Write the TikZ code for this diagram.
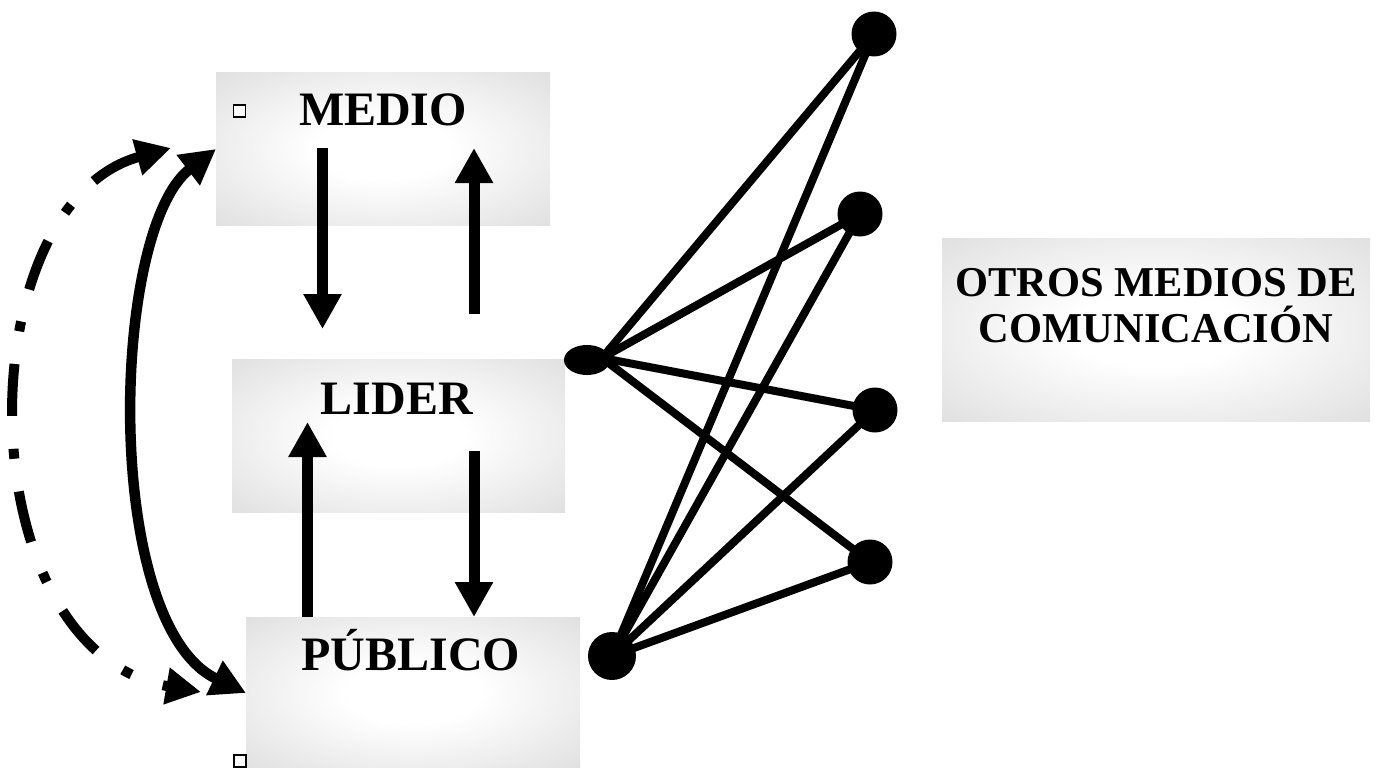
\documentclass[tikz,border=0pt]{standalone}
\usepackage{fontspec}
\setmainfont{Liberation Serif}
\usetikzlibrary{arrows.meta,shapes.geometric}
\definecolor{boxgray}{RGB}{221,221,221}
\pgfdeclareradialshading{boxshade}{\pgfpoint{0bp}{0bp}}{color(0bp)=(white); color(10bp)=(white); color(38bp)=(boxgray); color(100bp)=(boxgray)}
\begin{document}
\begin{tikzpicture}[x=1pt,y=-1pt,
  box/.style={rectangle, draw=none, shading=boxshade, inner sep=0pt, outer sep=0pt},
  lbl/.style={font=\fontsize{48}{52}\selectfont\bfseries, inner sep=0pt, anchor=base},
  olbl/.style={font=\fontsize{42.5}{46}\selectfont\bfseries, inner sep=0pt, anchor=base},
  arr/.style={line width=11pt, -{Triangle[length=35pt,width=36pt]}},
  arc/.style={line width=10.5pt, {Triangle[length=35pt,width=36pt]}-{Triangle[length=35pt,width=36pt]}},
  dasharc/.style={line width=10pt, dash pattern=on 52pt off 33pt on 10pt off 33pt, {Triangle[length=35pt,width=35pt]}-{Triangle[length=35pt,width=35pt]}},
  link/.style={line width=8pt},
  dot/.style={circle, fill=black, inner sep=0pt, minimum size=45pt},
  bullet/.style={rectangle, draw=black, line width=1.8pt, fill=white, inner sep=0pt, minimum size=12pt}
]
\useasboundingbox (0,0) rectangle (1382,768);

% boxes
\node[box, minimum width=334pt, minimum height=152pt] (medio) at (383,149) {};
\node[box, minimum width=333pt, minimum height=153pt] (lider) at (398.5,435.5) {};
\node[box, minimum width=334pt, minimum height=152pt] (publico) at (413,693) {};
\node[box, minimum width=428pt, minimum height=183pt] (otros) at (1156,329.5) {};

% labels
\node[lbl] (medioT) at (383,125) {MEDIO};
\node[lbl] (liderT) at (397,414) {LIDER};
\node[lbl] (publicoT) at (411,670) {PÚBLICO};
\node[olbl] (otros1) at (1156,296) {OTROS MEDIOS DE};
\node[olbl] (otros2) at (1156,342) {COMUNICACIÓN};

% bullets
\node[bullet] (b1) at (239.5,111) {};
\node[bullet] (b2) at (240,761) {};

% vertical arrows
\coordinate (a1s) at (322.5,148); \coordinate (a1e) at (322.5,329);
\coordinate (a2s) at (474,314);   \coordinate (a2e) at (474,148);
\coordinate (a3s) at (307.5,617); \coordinate (a3e) at (307.5,422);
\coordinate (a4s) at (474,451);   \coordinate (a4e) at (474,617);
\draw[arr] (a1s) -- (a1e);
\draw[arr] (a2s) -- (a2e);
\draw[arr] (a3s) -- (a3e);
\draw[arr] (a4s) -- (a4e);

% left arcs
\draw[arc] (medio.west) .. controls (110,230) and (102,624) .. (publico.west);
\coordinate (d1) at (171,148);
\coordinate (d2) at (201,692);
\draw[dasharc] (d1) .. controls (-35,205) and (-35,651) .. (d2);

% right network
\node[dot] (p1) at (874,34) {};
\node[dot] (p2) at (860,214) {};
\node[dot] (p3) at (875,410) {};
\node[dot] (p4) at (870,562) {};
\node[dot, minimum size=48pt] (q) at (612,656) {};
\node[ellipse, fill=black, minimum width=46pt, minimum height=30pt, inner sep=0pt] (ell) at (587,360) {};
\coordinate (hub) at (602,358);
\draw[link] (hub) -- (p1.center);
\draw[link] (hub) -- (p2.center);
\draw[link] (hub) -- (p3.center);
\draw[link] (hub) -- (p4.center);
\draw[link] (q.center) -- (p1.center);
\draw[link] (q.center) -- (p2.center);
\draw[link] (q.center) -- (p3.center);
\draw[link] (q.center) -- (p4.center);
\end{tikzpicture}
\end{document}
